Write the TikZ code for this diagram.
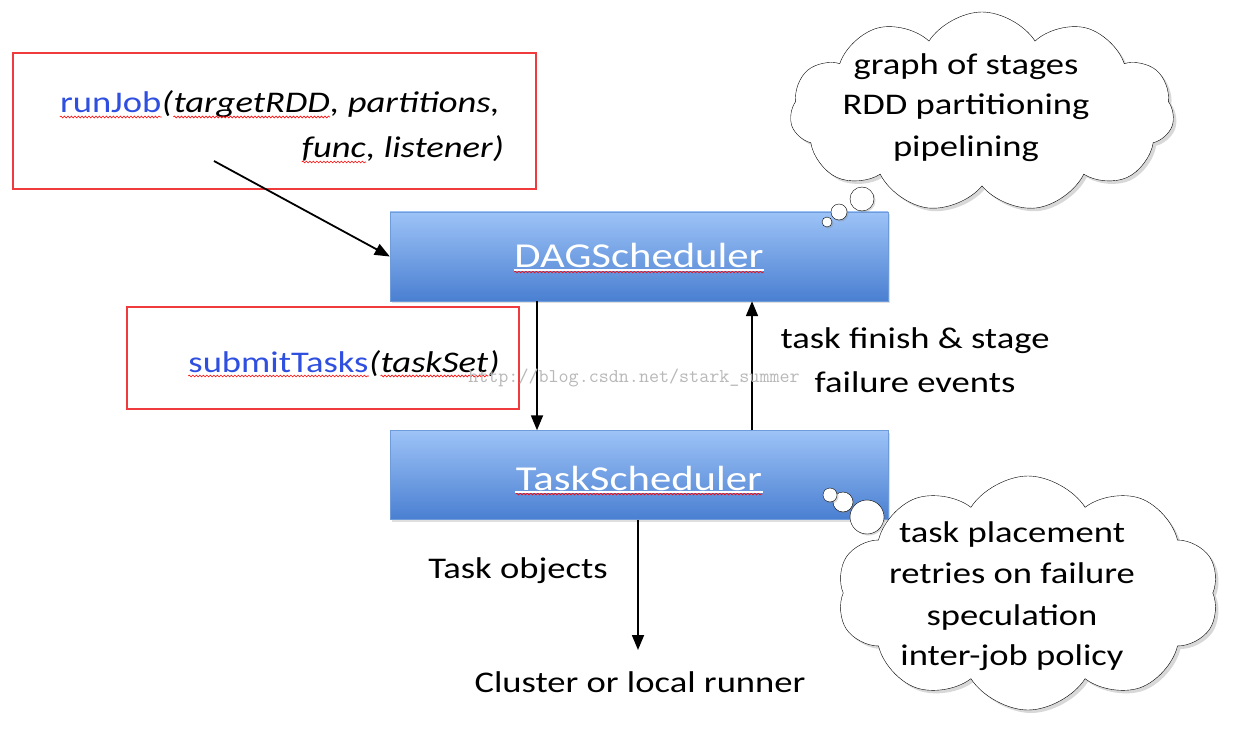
\documentclass[tikz,border=0pt]{standalone}
\usepackage{fontspec}
\setmainfont{Carlito}[FakeStretch=1.22]
\usepackage{xcolor}
\usetikzlibrary{
    arrows.meta,
    shapes.symbols,
    shadows,
    decorations.pathmorphing,
    positioning
}
\definecolor{boxtop}{HTML}{9DC3F7}
\definecolor{boxbot}{HTML}{4A7FD1}
\definecolor{boxedge}{HTML}{6E9BD9}
\definecolor{callred}{HTML}{EF3B3D}
\definecolor{callblue}{HTML}{2F4FE0}
\newcommand\spellwave[1]{\tikz[baseline=(sw.base)]{\node[inner sep=0pt] (sw) {#1};
    \draw[red, line width=0.6pt, decorate, decoration={snake, amplitude=0.9pt, segment length=3.5pt}]
    ([yshift=-4pt]sw.base west) -- ([yshift=-4pt]sw.base east);}}
\newcommand\bodyfont{\fontsize{30}{42}\selectfont}

\begin{document}
\begin{tikzpicture}[x=1pt,y=-1pt,
    schedbox/.style={draw=boxedge, top color=boxtop, bottom color=boxbot,
        minimum width=498pt, minimum height=89pt, inner sep=0pt,
        drop shadow={opacity=0.25, shadow xshift=2pt, shadow yshift=-2pt}},
    schedlabel/.style={font=\fontsize{35}{40}\selectfont, text=white, inner sep=0pt, anchor=base},
    callbox/.style={draw=callred, line width=2.5pt, inner sep=0pt},
    plain/.style={font=\bodyfont, inner sep=0pt, anchor=base},
    thought/.style={cloud, draw, fill=white, cloud puffs=11, cloud puff arc=115,
        inner sep=0pt, drop shadow={opacity=0.3, shadow xshift=3pt, shadow yshift=-3pt}},
    bubble/.style={circle, draw, fill=white, inner sep=0pt,
        drop shadow={opacity=0.3, shadow xshift=1.5pt, shadow yshift=-1.5pt}},
    flow/.style={-{Triangle[length=15pt,width=12pt]}, line width=1.8pt}
]
\fill[white] (0,0) rectangle (1251,730);
\useasboundingbox (0,0) rectangle (1251,730);

% the two schedulers
\node[schedbox] (dag) at (639,256.5) {};
\node[schedlabel] (daglbl) at (639,268) {\spellwave{DAGScheduler}};
\draw[white, line width=1.2pt] ([yshift=-2pt]daglbl.base west) -- ([yshift=-2pt]daglbl.base east);
\node[schedbox] (task) at (639,475) {};
\node[schedlabel] (tasklbl) at (639,490) {\spellwave{TaskScheduler}};
\draw[white, line width=1.2pt] ([yshift=-2pt]tasklbl.base west) -- ([yshift=-2pt]tasklbl.base east);

% calls
\node[callbox, minimum width=523pt, minimum height=136pt] (jobcall) at (274.5,121) {};
\node[plain, anchor=base east] (jobline1) at (500,113)
    {\textcolor{callblue}{\spellwave{runJob}}\textit{(\spellwave{targetRDD}, partitions,}};
\node[plain, anchor=base east] (jobline2) at (504,158) {\textit{\spellwave{func}, listener)}};
\coordinate (jobtail) at (214,161);

\node[callbox, minimum width=392pt, minimum height=102pt] (submitcall) at (323,358) {};
\node[plain, anchor=base east] (submitline) at (500,372)
    {\textcolor{callblue}{\spellwave{submitTasks}}\textit{(\spellwave{taskSet})}};

% arrows
\draw[flow] (jobtail) -- (dag.west);
\draw[flow] ([xshift=-102pt]dag.south) -- ([xshift=-102pt]task.north);
\draw[flow] ([xshift=113pt]task.north) -- ([xshift=113pt]dag.south);
\coordinate (runnerin) at (638,650);
\draw[flow] (task.south -| runnerin) -- (runnerin);

% labels
\node[plain] (events) at (915,348) {task finish \& stage};
\node[plain] (events2) at (915,392) {failure events};
\node[plain] (taskobj) at (518,578) {Task objects};
\node[plain] (runner) at (640,692) {Cluster or local runner};
\node[font=\ttfamily\fontsize{19.5}{20}\selectfont, text=black!28, inner sep=0pt, anchor=base]
    (mark) at (634,382) {http://blog.csdn.net/stark\_summer};

% thought clouds
\node[thought, minimum width=384pt, minimum height=200pt] (stagecloud) at (982,112) {};
\node[plain] (st1) at (966,75) {graph of stages};
\node[plain] (st2) at (966,115) {RDD partitioning};
\node[plain] (st3) at (966,157) {pipelining};
\node[bubble, minimum size=24pt] (sb1) at (862,199) {};
\node[bubble, minimum size=16pt] (sb2) at (839,212) {};
\node[bubble, minimum size=10pt] (sb3) at (827,222) {};

\node[thought, cloud puffs=10, minimum width=382pt, minimum height=234pt] (taskcloud) at (1028,593) {};
\node[plain] (tc1) at (1012,542) {task placement};
\node[plain] (tc2) at (1012,583) {retries on failure};
\node[plain] (tc3) at (1012,625) {speculation};
\node[plain] (tc4) at (1012,665) {inter-job policy};
\node[bubble, minimum size=34pt] (tb1) at (867,517) {};
\node[bubble, minimum size=20pt] (tb2) at (843,502) {};
\node[bubble, minimum size=14pt] (tb3) at (830,495) {};
\end{tikzpicture}
\end{document}
